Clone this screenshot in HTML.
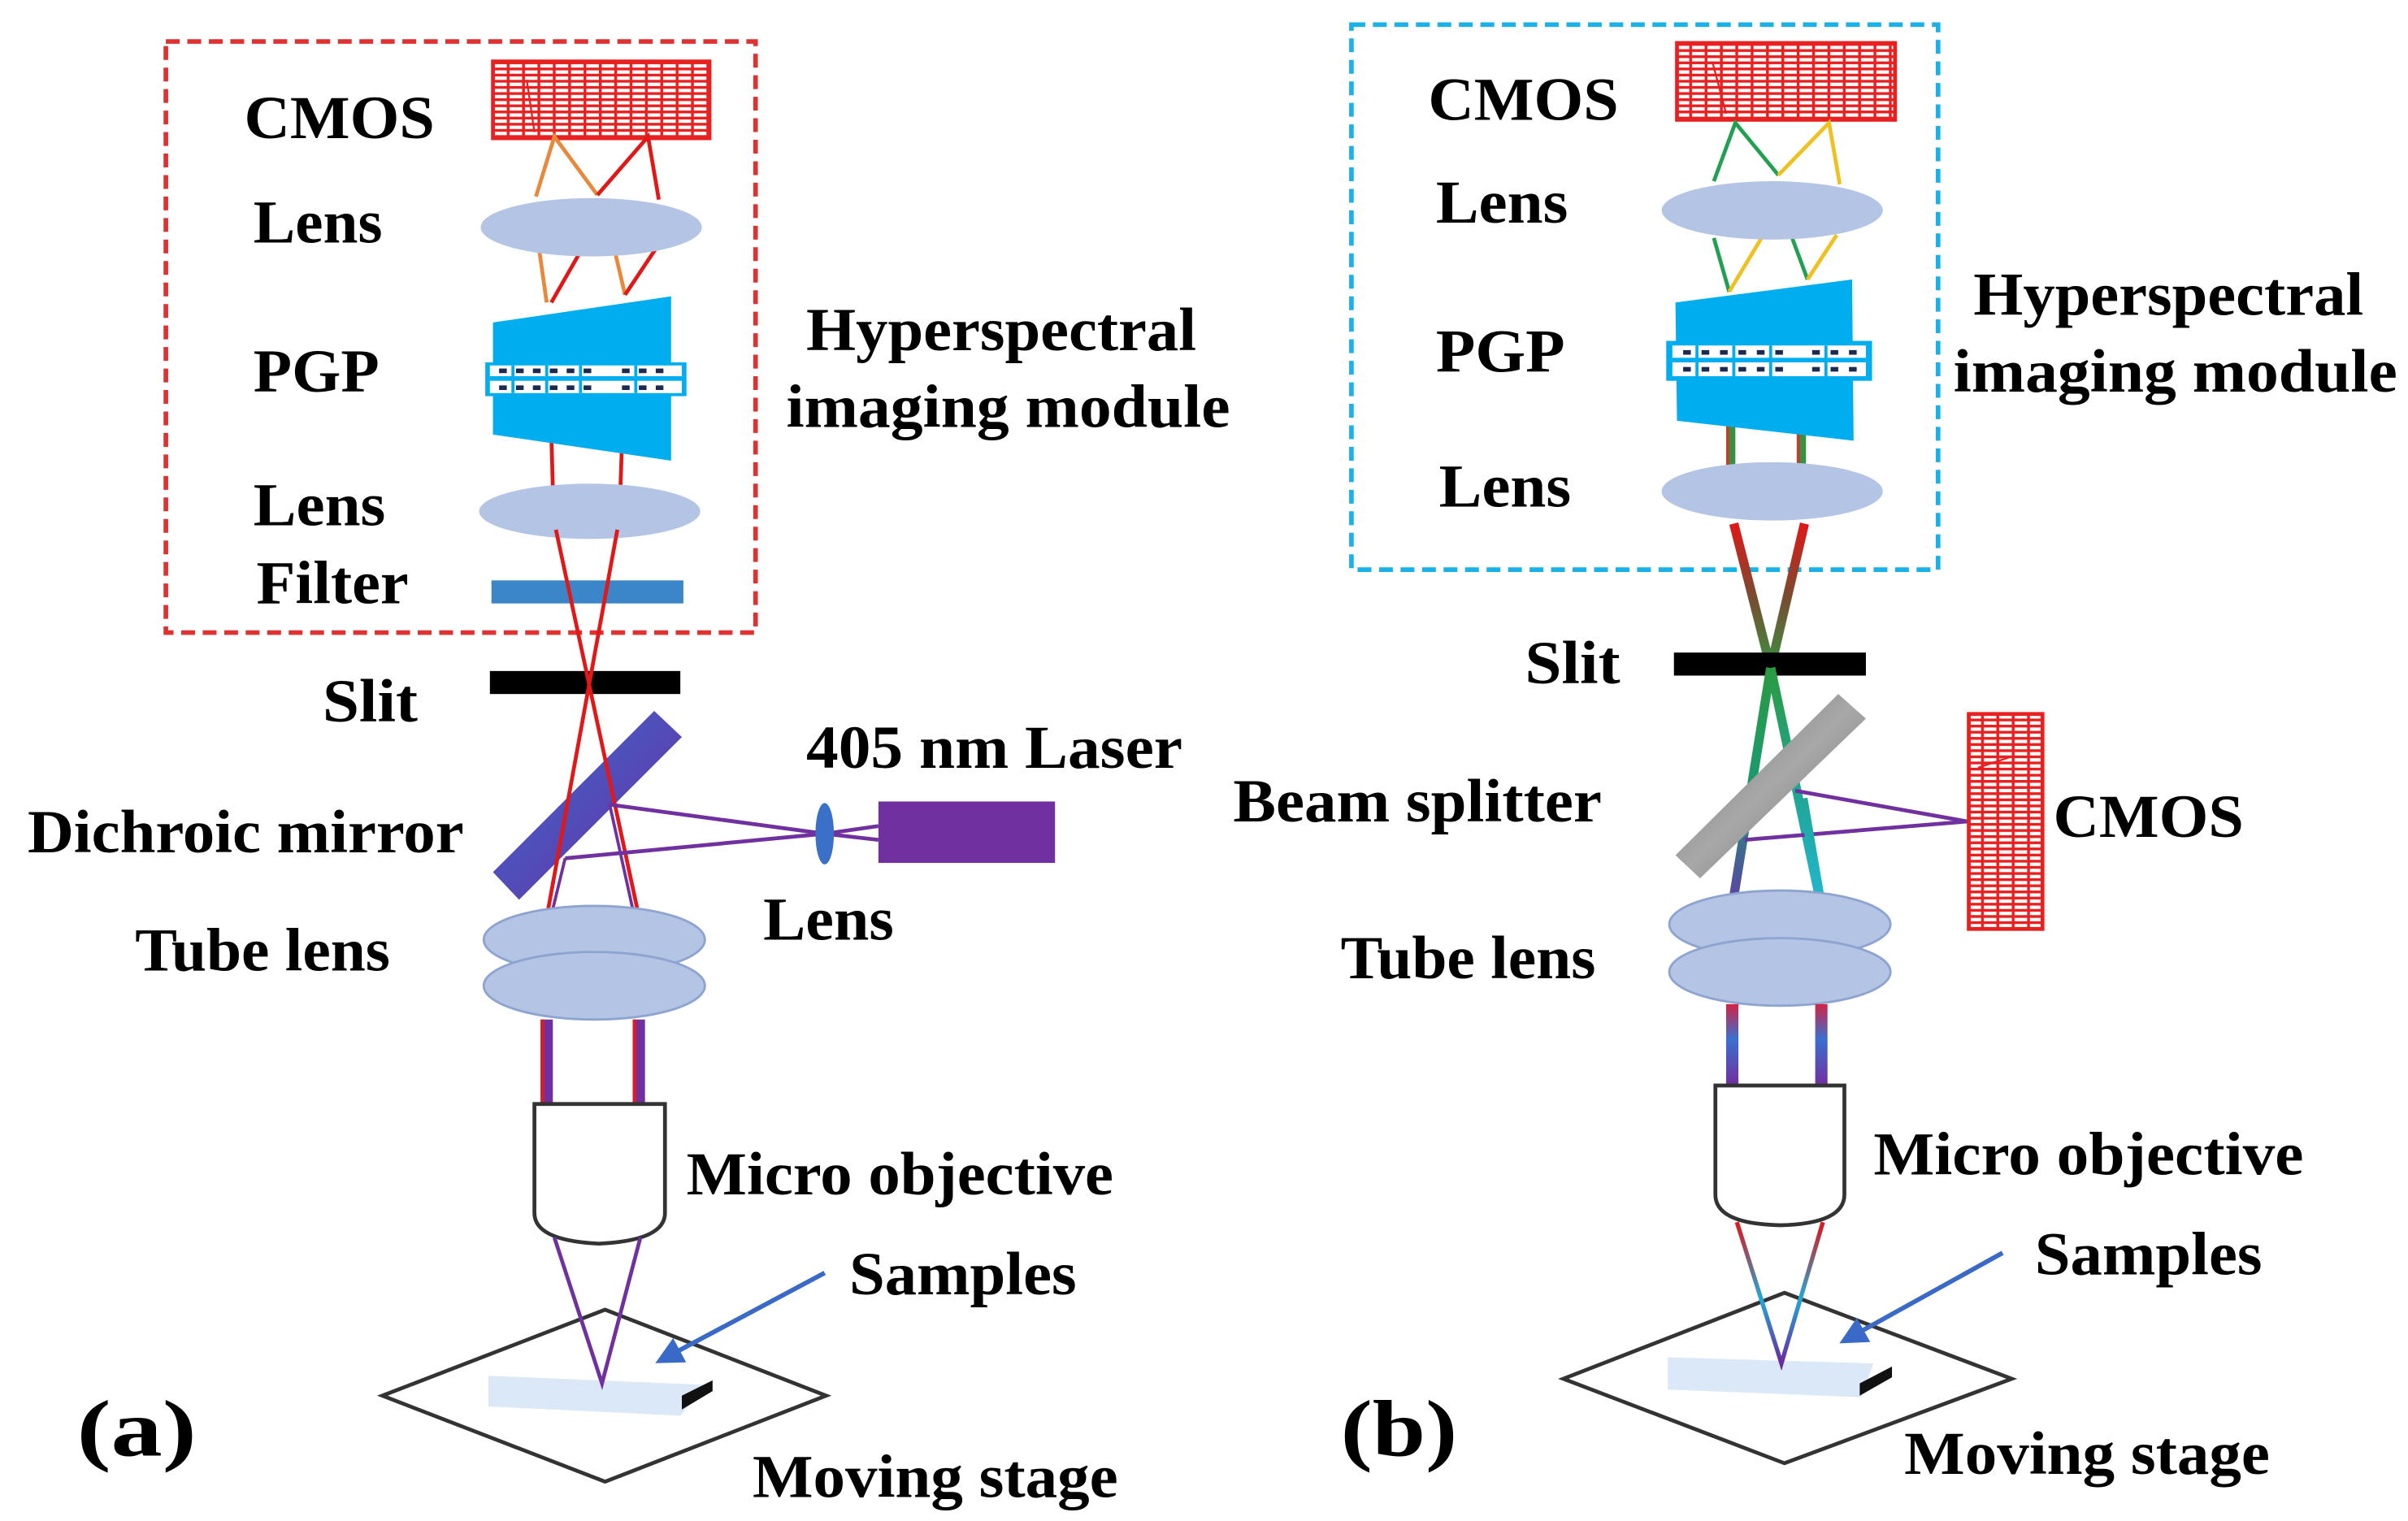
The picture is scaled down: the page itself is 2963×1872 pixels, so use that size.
<!DOCTYPE html>
<html><head><meta charset="utf-8"><style>
html,body{margin:0;padding:0;background:#fff;}
svg{display:block;}
text{font-family:"Liberation Serif",serif;font-weight:bold;fill:#000;}
</style></head><body>
<svg width="2963" height="1872" viewBox="0 0 1568 990.6" xmlns="http://www.w3.org/2000/svg">
<defs>
<pattern id="gridH" width="10" height="4" patternUnits="userSpaceOnUse">
<rect width="10" height="4" fill="#fff"/>
<rect width="10" height="1.8" fill="#e82020"/>
<rect width="1.8" height="4" fill="#e82020"/>
</pattern>
<linearGradient id="mirA" x1="0" y1="0" x2="1" y2="1"><stop offset="0" stop-color="#3a6ed0"/><stop offset="1" stop-color="#6a2aa0"/></linearGradient>
<linearGradient id="bsG" x1="0" y1="0" x2="1" y2="1"><stop offset="0" stop-color="#707070"/><stop offset="0.5" stop-color="#a8a8a8"/><stop offset="1" stop-color="#6a6a6a"/></linearGradient>
<linearGradient id="tubeB" x1="0" y1="653" x2="0" y2="706" gradientUnits="userSpaceOnUse"><stop offset="0" stop-color="#d82040"/><stop offset="0.45" stop-color="#3a70d0"/><stop offset="1" stop-color="#7030a0"/></linearGradient>
<linearGradient id="coneB" x1="0" y1="794" x2="0" y2="888" gradientUnits="userSpaceOnUse"><stop offset="0" stop-color="#e81010"/><stop offset="0.55" stop-color="#20a8d8"/><stop offset="1" stop-color="#6a2aa0"/></linearGradient>
<linearGradient id="xTop" x1="0" y1="341" x2="0" y2="435" gradientUnits="userSpaceOnUse"><stop offset="0" stop-color="#e01818"/><stop offset="0.5" stop-color="#7a4a30"/><stop offset="1" stop-color="#3a9040"/></linearGradient>
<linearGradient id="xLeft" x1="0" y1="435" x2="0" y2="590" gradientUnits="userSpaceOnUse"><stop offset="0" stop-color="#2a9a40"/><stop offset="0.5" stop-color="#1a9a70"/><stop offset="1" stop-color="#6040a8"/></linearGradient>
<linearGradient id="xRight" x1="0" y1="435" x2="0" y2="590" gradientUnits="userSpaceOnUse"><stop offset="0" stop-color="#2a9a40"/><stop offset="0.6" stop-color="#20a8a0"/><stop offset="1" stop-color="#20b8d0"/></linearGradient>
<marker id="arr" markerWidth="6" markerHeight="6" refX="4" refY="3" orient="auto"><path d="M0,0 L6,3 L0,6 z" fill="#3a6ac8"/></marker>
</defs>

<!-- ============ (a) ============ -->
<rect x="108" y="27" width="384" height="385" fill="none" stroke="#e03030" stroke-width="3" stroke-dasharray="9,5"/>
<rect x="321" y="40" width="141" height="50" fill="url(#gridH)" stroke="#e82020" stroke-width="2.5"/>
<line x1="343" y1="52" x2="348" y2="86" stroke="#e82020" stroke-width="1.2"/>
<g fill="none" stroke-width="2.5">
<polyline points="349,128 361,89 389,127" stroke="#e8883a"/>
<polyline points="389,127 422,89 429,130" stroke="#e01818"/>
<line x1="351" y1="162" x2="356" y2="197" stroke="#e8883a"/>
<line x1="379" y1="162" x2="359" y2="197" stroke="#e01818"/>
<line x1="400" y1="162" x2="407" y2="192" stroke="#e8883a"/>
<line x1="427" y1="162" x2="407" y2="192" stroke="#e01818"/>
<line x1="359" y1="283" x2="360" y2="318" stroke="#e01818"/>
<line x1="405" y1="289" x2="404" y2="318" stroke="#e01818"/>
</g>
<ellipse cx="385" cy="148" rx="72" ry="19" fill="#b4c4e4"/>
<polygon points="321,210 437,193 437,300 321,283" fill="#00aeef"/>
<rect x="316" y="236" width="131" height="22" fill="#00aeef"/>
<rect x="319" y="238" width="125" height="18" fill="#fff"/>
<g fill="#1a2a50">
<rect x="325" y="240" width="5" height="3"/><rect x="336" y="240" width="5" height="3"/><rect x="347" y="240" width="5" height="3"/><rect x="358" y="240" width="5" height="3"/><rect x="369" y="240" width="5" height="3"/><rect x="380" y="240" width="5" height="3"/><rect x="405" y="240" width="5" height="3"/><rect x="416" y="240" width="5" height="3"/><rect x="427" y="240" width="5" height="3"/>
<rect x="325" y="251" width="5" height="3"/><rect x="336" y="251" width="5" height="3"/><rect x="347" y="251" width="5" height="3"/><rect x="358" y="251" width="5" height="3"/><rect x="369" y="251" width="5" height="3"/><rect x="380" y="251" width="5" height="3"/><rect x="405" y="251" width="5" height="3"/><rect x="416" y="251" width="5" height="3"/><rect x="427" y="251" width="5" height="3"/>
</g>
<g fill="#00aeef"><rect x="319" y="245" width="125" height="3"/><rect x="333" y="238" width="2" height="18"/><rect x="355" y="238" width="2" height="18"/><rect x="377" y="238" width="2" height="18"/><rect x="413" y="238" width="2" height="18"/></g>
<ellipse cx="384" cy="333" rx="72" ry="18" fill="#b4c4e4"/>
<rect x="320" y="378" width="125" height="15" fill="#3a86c8"/>
<rect x="319" y="437" width="124" height="15" fill="#000"/>
<polygon points="426,463 444,480 338,586 321,568" fill="url(#mirA)"/>
<g fill="none" stroke-width="2.5">
<line x1="362" y1="345" x2="415" y2="592" stroke="#e01818"/>
<line x1="402" y1="345" x2="357" y2="592" stroke="#e01818"/>
<line x1="537" y1="543" x2="397" y2="524" stroke="#7030a0"/>
<line x1="537" y1="543" x2="368" y2="559" stroke="#7030a0"/>
<line x1="537" y1="543" x2="572" y2="538" stroke="#7030a0"/>
<line x1="537" y1="543" x2="572" y2="547" stroke="#7030a0"/>
<line x1="368" y1="559" x2="360" y2="592" stroke="#7030a0" stroke-width="2"/>
<line x1="397" y1="524" x2="412" y2="592" stroke="#7030a0" stroke-width="2"/>
</g>
<rect x="572" y="522" width="115" height="40" fill="#7030a0"/>
<ellipse cx="537" cy="543" rx="6" ry="20" fill="#3a70c8"/>
<ellipse cx="387" cy="612" rx="72" ry="22" fill="#b4c4e4" stroke="#8ea4d0" stroke-width="1.5"/>
<ellipse cx="387" cy="642" rx="72" ry="22" fill="#b4c4e4" stroke="#8ea4d0" stroke-width="1.5"/>
<rect x="352" y="664" width="8" height="55" fill="#7030a0"/><rect x="352" y="664" width="2.5" height="55" fill="#d02030"/>
<rect x="412" y="664" width="8" height="55" fill="#7030a0"/><rect x="412" y="664" width="2.5" height="55" fill="#d02030"/>
<path d="M348,719 L433,719 L433,790 Q433,808 390,810 Q348,808 348,790 Z" fill="#fff" stroke="#333" stroke-width="2.5"/>
<polygon points="249,909 394,853 538,909 394,965" fill="none" stroke="#333" stroke-width="2.5"/>
<polygon points="318,896 460,902 443,922 318,916" fill="#dbe8f8"/>
<polygon points="444,909 464,899 464,906 444,918" fill="#111"/>
<polyline points="361,806 392,901 417,806" fill="none" stroke="#7030a0" stroke-width="2.5"/>
<line x1="537" y1="829" x2="432" y2="885" stroke="#3a6ac8" stroke-width="3" marker-end="url(#arr)"/>

<text x="159" y="90" font-size="40" textLength="124" lengthAdjust="spacingAndGlyphs">CMOS</text>
<text x="165" y="158" font-size="40" textLength="84" lengthAdjust="spacingAndGlyphs">Lens</text>
<text x="165" y="255" font-size="40" textLength="82" lengthAdjust="spacingAndGlyphs">PGP</text>
<text x="165" y="342" font-size="40" textLength="86" lengthAdjust="spacingAndGlyphs">Lens</text>
<text x="167" y="393" font-size="40" textLength="99" lengthAdjust="spacingAndGlyphs">Filter</text>
<text x="210" y="470" font-size="40" textLength="62" lengthAdjust="spacingAndGlyphs">Slit</text>
<text x="18" y="555" font-size="40" textLength="284" lengthAdjust="spacingAndGlyphs">Dichroic mirror</text>
<text x="525" y="500" font-size="40" textLength="245" lengthAdjust="spacingAndGlyphs">405 nm Laser</text>
<text x="497" y="612" font-size="40" textLength="85" lengthAdjust="spacingAndGlyphs">Lens</text>
<text x="88" y="632" font-size="40" textLength="166" lengthAdjust="spacingAndGlyphs">Tube lens</text>
<text x="447" y="778" font-size="40" textLength="278" lengthAdjust="spacingAndGlyphs">Micro objective</text>
<text x="553" y="843" font-size="40" textLength="148" lengthAdjust="spacingAndGlyphs">Samples</text>
<text x="525" y="228" font-size="40" textLength="254" lengthAdjust="spacingAndGlyphs">Hyperspectral</text>
<text x="512" y="278" font-size="40" textLength="289" lengthAdjust="spacingAndGlyphs">imaging module</text>
<text x="50" y="948" font-size="52" textLength="78" lengthAdjust="spacingAndGlyphs">(a)</text>
<text x="490" y="975" font-size="40" textLength="238" lengthAdjust="spacingAndGlyphs">Moving stage</text>

<!-- ============ (b) ============ -->
<rect x="880" y="16" width="382" height="355" fill="none" stroke="#1ab0e8" stroke-width="3" stroke-dasharray="9,5"/>
<rect x="1092" y="28" width="142" height="50" fill="url(#gridH)" stroke="#e82020" stroke-width="2.5"/>
<line x1="1115" y1="40" x2="1124" y2="74" stroke="#e82020" stroke-width="1.2"/>
<g fill="none" stroke-width="2.5">
<polyline points="1116,118 1130,80 1158,114" stroke="#20a050"/>
<polyline points="1158,114 1191,80 1198,120" stroke="#f0c020"/>
<line x1="1116" y1="155" x2="1126" y2="190" stroke="#20a050"/>
<line x1="1126" y1="190" x2="1147" y2="155" stroke="#f0c020"/>
<line x1="1167" y1="155" x2="1177" y2="182" stroke="#20a050"/>
<line x1="1177" y1="182" x2="1196" y2="153" stroke="#f0c020"/>
</g>
<ellipse cx="1154" cy="137" rx="72" ry="19" fill="#b4c4e4"/>
<rect x="1124" y="275" width="6" height="40" fill="#3a9040"/><rect x="1124" y="275" width="2" height="40" fill="#c04030"/>
<rect x="1170" y="275" width="6" height="40" fill="#3a9040"/><rect x="1170" y="275" width="2" height="40" fill="#c04030"/>
<polygon points="1091,197 1206,182 1207,287 1092,274" fill="#00aeef"/>
<rect x="1085" y="222" width="134" height="26" fill="#00aeef"/>
<rect x="1089" y="225" width="126" height="20" fill="#fff"/>
<g fill="#1a2a50">
<rect x="1096" y="228" width="5" height="3"/><rect x="1108" y="228" width="5" height="3"/><rect x="1120" y="228" width="5" height="3"/><rect x="1132" y="228" width="5" height="3"/><rect x="1144" y="228" width="5" height="3"/><rect x="1156" y="228" width="5" height="3"/><rect x="1180" y="228" width="5" height="3"/><rect x="1192" y="228" width="5" height="3"/><rect x="1204" y="228" width="5" height="3"/>
<rect x="1096" y="239" width="5" height="3"/><rect x="1108" y="239" width="5" height="3"/><rect x="1120" y="239" width="5" height="3"/><rect x="1132" y="239" width="5" height="3"/><rect x="1144" y="239" width="5" height="3"/><rect x="1156" y="239" width="5" height="3"/><rect x="1180" y="239" width="5" height="3"/><rect x="1192" y="239" width="5" height="3"/><rect x="1204" y="239" width="5" height="3"/>
</g>
<g fill="#00aeef"><rect x="1089" y="233" width="126" height="3"/><rect x="1104" y="225" width="2" height="20"/><rect x="1128" y="225" width="2" height="20"/><rect x="1152" y="225" width="2" height="20"/><rect x="1188" y="225" width="2" height="20"/></g>
<ellipse cx="1154" cy="320" rx="72" ry="19" fill="#b4c4e4"/>
<g stroke-width="6" fill="none">
<line x1="1129" y1="341" x2="1153" y2="435" stroke="url(#xTop)"/>
<line x1="1175" y1="341" x2="1153" y2="435" stroke="url(#xTop)"/>
</g>
<rect x="1090" y="425" width="125" height="15" fill="#000"/>
<g stroke-width="6" fill="none">
<line x1="1153" y1="435" x2="1128" y2="590" stroke="url(#xLeft)"/>
<line x1="1153" y1="435" x2="1186" y2="590" stroke="url(#xRight)"/>
</g>
<polygon points="1197,452 1215,468 1107,572 1091,557" fill="url(#bsG)"/>
<line x1="1281" y1="535" x2="1169" y2="515" stroke="#7030a0" stroke-width="2.5"/>
<line x1="1281" y1="535" x2="1136" y2="547" stroke="#7030a0" stroke-width="2.5"/>
<line x1="1174" y1="520" x2="1186" y2="590" stroke="url(#xRight)" stroke-width="6"/>
<rect x="1282" y="465" width="48" height="140" fill="url(#gridH)" stroke="#e82020" stroke-width="2.5"/>
<line x1="1288" y1="500" x2="1312" y2="492" stroke="#e82020" stroke-width="1.2"/>
<ellipse cx="1159" cy="602" rx="72" ry="22" fill="#b4c4e4" stroke="#8ea4d0" stroke-width="1.5"/>
<ellipse cx="1159" cy="633" rx="72" ry="22" fill="#b4c4e4" stroke="#8ea4d0" stroke-width="1.5"/>
<rect x="1124" y="654" width="8" height="53" fill="url(#tubeB)"/>
<rect x="1182" y="654" width="8" height="53" fill="url(#tubeB)"/>
<path d="M1117,707 L1201,707 L1201,778 Q1201,797 1159,798 Q1117,797 1117,778 Z" fill="#fff" stroke="#333" stroke-width="2.5"/>
<polygon points="1018,898 1162,842 1310,898 1162,953" fill="none" stroke="#333" stroke-width="2.5"/>
<polygon points="1086,884 1220,888 1212,910 1086,905" fill="#dbe8f8"/>
<polygon points="1211,901 1232,890 1232,897 1211,909" fill="#111"/>
<polyline points="1131,796 1160,888 1187,796" fill="none" stroke="url(#coneB)" stroke-width="2.8"/>
<line x1="1304" y1="816" x2="1203" y2="872" stroke="#3a6ac8" stroke-width="3" marker-end="url(#arr)"/>

<text x="930" y="78" font-size="40" textLength="124" lengthAdjust="spacingAndGlyphs">CMOS</text>
<text x="935" y="145" font-size="40" textLength="86" lengthAdjust="spacingAndGlyphs">Lens</text>
<text x="935" y="242" font-size="40" textLength="84" lengthAdjust="spacingAndGlyphs">PGP</text>
<text x="937" y="330" font-size="40" textLength="86" lengthAdjust="spacingAndGlyphs">Lens</text>
<text x="993" y="445" font-size="40" textLength="62" lengthAdjust="spacingAndGlyphs">Slit</text>
<text x="803" y="535" font-size="40" textLength="240" lengthAdjust="spacingAndGlyphs">Beam splitter</text>
<text x="1337" y="545" font-size="40" textLength="124" lengthAdjust="spacingAndGlyphs">CMOS</text>
<text x="873" y="637" font-size="40" textLength="166" lengthAdjust="spacingAndGlyphs">Tube lens</text>
<text x="1220" y="765" font-size="40" textLength="280" lengthAdjust="spacingAndGlyphs">Micro objective</text>
<text x="1325" y="830" font-size="40" textLength="148" lengthAdjust="spacingAndGlyphs">Samples</text>
<text x="1285" y="205" font-size="40" textLength="254" lengthAdjust="spacingAndGlyphs">Hyperspectral</text>
<text x="1272" y="255" font-size="40" textLength="289" lengthAdjust="spacingAndGlyphs">imaging module</text>
<text x="873" y="948" font-size="52" textLength="76" lengthAdjust="spacingAndGlyphs">(b)</text>
<text x="1240" y="960" font-size="40" textLength="238" lengthAdjust="spacingAndGlyphs">Moving stage</text>
</svg>
</body></html>
